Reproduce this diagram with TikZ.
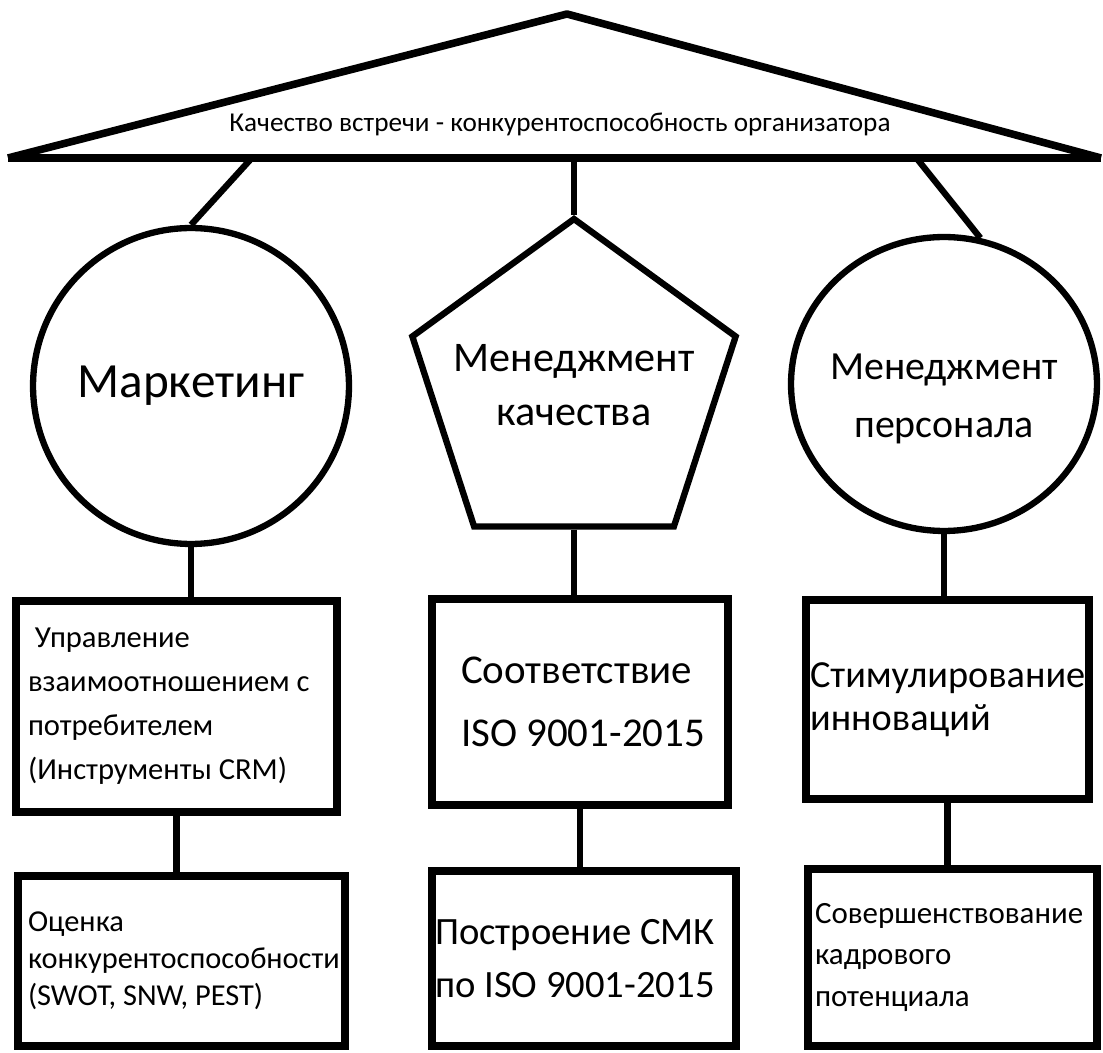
\documentclass[tikz,border=0pt]{standalone}
\usepackage{fontspec}
\setmainfont{Carlito}
\usetikzlibrary{shapes.geometric}

\begin{document}
\begin{tikzpicture}[x=0.02cm,y=-0.02cm,
	conn/.style={line width=3.6pt},
	bigshape/.style={draw, line width=3.6pt, align=center, inner sep=0pt},
	box/.style={draw, line width=4.5pt, align=flush left}]
	\useasboundingbox (0,0) rectangle (1103,1053);

	\coordinate (apex) at (567,14);
	\coordinate (baseL) at (8,158);
	\coordinate (baseR) at (1101,158);
	\draw[line width=4.3pt, line join=round] (baseL) -- (apex) -- (baseR);
	\draw[line width=5pt] (baseL) -- (baseR);
	\node[font=\fontsize{15.5}{18}\selectfont] (title) at (560,124) {Качество встречи - конкурентоспособность организатора};

	\coordinate (c1) at (250,160);
	\coordinate (c2) at (574,160);
	\coordinate (c3) at (918,160);

	\node[bigshape, circle, minimum size=6.32cm, font=\fontsize{28}{33}\selectfont] (mkt) at (191,386) {Маркетинг};
	\node[bigshape, regular polygon, regular polygon sides=5, minimum size=6.8cm,
		label={[name=qmtext, align=center, font=\fontsize{24}{31}\selectfont, yshift=0.08cm]center:Менеджмент\\качества}] (qm) at (574,389) {};
	\node[bigshape, ellipse, minimum width=6.12cm, minimum height=5.88cm,
		label={[name=perstext, align=center, font=\fontsize{22.7}{33}\selectfont, yshift=-0.3cm]center:Менеджмент\\персонала}] (pers) at (944,384) {};

	\node[box, text width=5.94cm, minimum height=4.22cm, inner xsep=0.24cm, font=\fontsize{17.4}{25}\selectfont] (crm) at (176.5,706.5) {\ Управление\\взаимоотношением с\\потребителем\\(Инструменты CRM)};
	\node[box, text width=6.14cm, minimum height=3.4cm, inner xsep=0.2cm, font=\fontsize{17.3}{21}\selectfont] (swot) at (181.5,961) {Оценка\\конкурентоспособности\\(SWOT, SNW, PEST)\par\vspace{0.3cm}};

	\node[box, text width=5.5cm, minimum height=4.12cm, inner xsep=0.21cm, font=\fontsize{23.3}{36}\selectfont] (iso) at (580,702) {\hspace*{0.37cm}Соответствие\\\hspace*{0.37cm}ISO 9001-2015};
	\node[box, text width=5.96cm, minimum height=3.5cm, inner xsep=0.06cm, font=\fontsize{22}{30.6}\selectfont] (smk) at (584,958.5) {Построение СМК\\по ISO 9001-2015};

	\node[box, text width=5.5cm, minimum height=3.98cm, inner xsep=0.08cm, font=\fontsize{21.8}{24.4}\selectfont] (stim) at (947.5,699.5) {Стимулирование\\инноваций\par\vspace{0.6cm}};
	\node[box, text width=5.5cm, minimum height=3.54cm, inner xsep=0.14cm, font=\fontsize{17.6}{23.8}\selectfont] (kadr) at (952.5,957.5) {Совершенствование\\кадрового\\потенциала};

	\draw[conn] (c1) -- (mkt.north);
	\draw[conn] (c2) -- (qm.north);
	\draw[conn] (c3) -- (pers.76);
	\draw[conn] (mkt.south) -- (mkt.south |- crm.north);
	\draw[conn] (crm.south) -- (crm.south |- swot.north);
	\draw[conn] (qm.south) -- (qm.south |- iso.north);
	\draw[conn] (iso.south) -- (iso.south |- smk.north);
	\draw[conn] (pers.south) -- (pers.south |- stim.north);
	\draw[conn] (stim.south) -- (stim.south |- kadr.north);

\end{tikzpicture}
\end{document}
